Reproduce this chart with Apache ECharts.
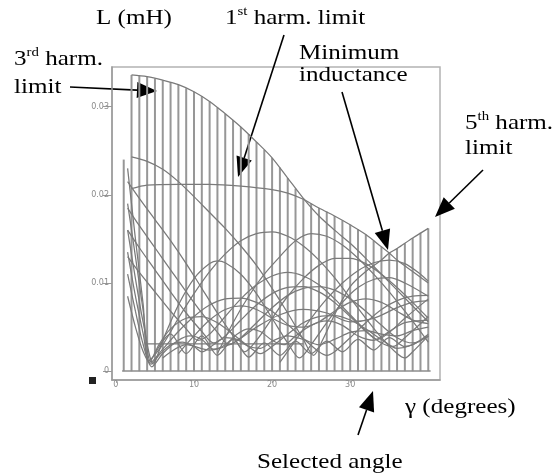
<!DOCTYPE html>
<html>
<head>
<meta charset="utf-8">
<script src="https://cdn.jsdelivr.net/npm/echarts@6/dist/echarts.min.js"></script>
<style>html,body{margin:0;padding:0;background:#fff}#c{width:552px;height:476px}</style>
</head>
<body>
<div id="c"></div>
<script>
// ---- tick labels ----
const xTicks = [0, 10, 20, 30];
const yTicks = [0, 0.01, 0.02, 0.03];

// ---- vertical hatch lines: angle (deg) and upper limit L (mH) ----
const hatchAngles = [1,2,3,4,5,6,7,8,9,10,11,12,13,14,15,16,17,18,19,20,21,22,23,24,25,26,27,28,29,30,31,32,33,34,35,36,37,38,39,40];
const hatchHeights = [0.0240,0.0336,0.0335,0.0334,0.0332,0.0330,0.0328,0.0325,0.0321,0.0317,0.0312,0.0306,0.0299,0.0292,0.0285,0.0277,0.0269,0.0260,0.0251,0.0242,0.0231,0.0219,0.0207,0.0196,0.0190,0.0185,0.0181,0.0176,0.0171,0.0166,0.0161,0.0155,0.0148,0.0141,0.0134,0.0139,0.0145,0.0151,0.0157,0.0162];

// ---- limit curves [angle, L] ----
const lim3 = [[2,0.0336],[4,0.0334],[6,0.0330],[8,0.0325],[10,0.0317],[12,0.0306],[14,0.0292],[16,0.0277],[18,0.0260],[20,0.0242],[22,0.0219],[24,0.0196],[26,0.0176],[28,0.0160],[30,0.0145],[32,0.0128],[34,0.0110],[36,0.0092],[38,0.0074],[40,0.0056]];
const lim1 = [[2,0.0207],[4,0.0211],[8,0.0212],[12,0.0212],[16,0.0210],[20,0.0206],[22,0.0202],[24,0.0195],[26,0.0185],[28,0.0176],[30,0.0166],[32,0.0155],[34,0.0141],[35,0.0134],[36,0.0126],[38,0.0113],[40,0.0100]];
const lim5 = [[2,0.0243],[4,0.0238],[6,0.0229],[8,0.0215],[10,0.0198],[12,0.0180],[14,0.0162],[16,0.0142],[18,0.0120],[20,0.0094],[22,0.0066],[24,0.0036],[25.3,0.0018],[26.5,0.0036],[28,0.0064],[30,0.0096],[32,0.0113],[34,0.0126],[35,0.0134],[36,0.0139],[38,0.0151],[40,0.0162]];
const humpA = [[13,0.0020],[15,0.0055],[17,0.0085],[19,0.0110],[21,0.0130],[23,0.0148],[25,0.0156],[27,0.0153],[29,0.0143],[31,0.0128],[33,0.0110],[35,0.0090],[37,0.0068],[39,0.0045],[40,0.0033]];
const humpB = [[21,0.0010],[23,0.0035],[25,0.0060],[27,0.0082],[29,0.0100],[31,0.0114],[33,0.0123],[35,0.0126],[37,0.0122],[39,0.0110],[40,0.0102]];
const fan1 = [[1.5,0.0230],[2.5,0.0150],[3.5,0.0075],[4.2,0.0012],[6,0.0030],[8,0.0060],[10,0.0088],[12,0.0113],[14,0.0133],[16,0.0148],[18,0.0156],[20,0.0158],[22,0.0153],[24,0.0142],[26,0.0126],[28,0.0106],[30,0.0083],[32,0.0060],[34,0.0038],[36,0.0020],[37,0.0015],[38,0.0022],[40,0.0040]];
const fan2 = [[1.5,0.0190],[2.5,0.0130],[3.5,0.0068],[4.5,0.0010],[6,0.0025],[8,0.0045],[10,0.0062],[12,0.0075],[14,0.0082],[16,0.0083],[18,0.0078],[20,0.0068],[22,0.0053],[24,0.0037],[26,0.0022],[27,0.0018],[28,0.0022],[30,0.0038],[32,0.0055],[34,0.0070],[36,0.0080],[38,0.0085],[40,0.0086]];
const fan3 = [[1.5,0.0160],[2.5,0.0105],[3.5,0.0055],[4.8,0.0008],[6,0.0035],[8,0.0075],[10,0.0105],[12,0.0122],[13,0.0125],[14,0.0123],[16,0.0110],[18,0.0088],[20,0.0060],[22,0.0032],[23.5,0.0015],[25,0.0030],[27,0.0055],[29,0.0078],[31,0.0095],[33,0.0104],[35,0.0106],[37,0.0100],[40,0.0085]];
const fan4 = [[1.5,0.0135],[2.5,0.0085],[3.5,0.0042],[4.3,0.0010],[5.5,0.0030],[7,0.0048],[9,0.0060],[11,0.0062],[13,0.0055],[15,0.0042],[17,0.0028],[18.5,0.0020],[20,0.0028],[22,0.0042],[24,0.0055],[26,0.0062],[28,0.0063],[30,0.0058],[32,0.0048],[34,0.0036],[36,0.0026],[38,0.0030],[40,0.0042]];
const fan5 = [[1.5,0.0110],[2.5,0.0068],[3.5,0.0030],[4.6,0.0005],[6,0.0020],[8,0.0035],[9.5,0.0040],[11,0.0036],[12.5,0.0025],[14,0.0030],[15.5,0.0042],[17,0.0048],[18.5,0.0045],[20,0.0035],[21.5,0.0030],[23,0.0040],[25,0.0052],[27,0.0057],[29,0.0052],[31,0.0040],[33,0.0035],[35,0.0045],[37,0.0055],[40,0.0058]];
const fan6 = [[1.5,0.0085],[2.5,0.0050],[3.5,0.0022],[4.5,0.0008],[5.5,0.0018],[7,0.0030],[8.5,0.0033],[10,0.0028],[11,0.0022],[12.5,0.0030],[14,0.0038],[15.5,0.0036],[17,0.0028],[18.5,0.0026],[20,0.0034],[22,0.0040],[24,0.0036],[26,0.0030],[28,0.0036],[30,0.0044],[32,0.0046],[34,0.0042],[36,0.0040],[38,0.0046],[40,0.0050]];
const slope1 = [[1.5,0.0215],[3,0.0196],[5,0.0172],[7,0.0148],[9,0.0122],[11,0.0094],[13,0.0066],[15,0.0040],[16.5,0.0022],[18,0.0035],[20,0.0060],[22,0.0085],[24,0.0105],[26,0.0120],[28,0.0128],[30,0.0128],[32,0.0122],[34,0.0110],[36,0.0095],[38,0.0078],[40,0.0060]];
const slope2 = [[1.5,0.0185],[3,0.0165],[5,0.0140],[7,0.0115],[9,0.0090],[11,0.0066],[13,0.0044],[14.5,0.0030],[16,0.0038],[18,0.0055],[20,0.0072],[22,0.0086],[24,0.0094],[26,0.0096],[28,0.0092],[30,0.0082],[32,0.0068],[34,0.0052],[36,0.0038],[38,0.0032],[40,0.0040]];
const slope3 = [[1.5,0.0160],[3,0.0140],[5,0.0115],[7,0.0090],[9,0.0066],[11,0.0045],[12.5,0.0032],[14,0.0040],[16,0.0058],[18,0.0075],[20,0.0088],[22,0.0095],[24,0.0096],[26,0.0090],[28,0.0078],[30,0.0062],[32,0.0045],[34,0.0032],[35.5,0.0028],[37,0.0038],[40,0.0062]];
const slope4 = [[1.5,0.0130],[3,0.0112],[5,0.0090],[7,0.0068],[9,0.0048],[10.5,0.0035],[12,0.0042],[14,0.0062],[16,0.0082],[18,0.0098],[20,0.0108],[22,0.0112],[24,0.0108],[26,0.0098],[28,0.0082],[30,0.0064],[32,0.0046],[33.5,0.0036],[35,0.0044],[37,0.0060],[40,0.0082]];
const wave1 = [[8,0.0020],[10,0.0040],[12,0.0058],[14,0.0070],[16,0.0074],[18,0.0070],[20,0.0060],[22,0.0052],[24,0.0050],[26,0.0056],[28,0.0068],[30,0.0078],[32,0.0082],[34,0.0078],[36,0.0068],[38,0.0058],[40,0.0054]];
const wave2 = [[6,0.0015],[9,0.0030],[12,0.0024],[15,0.0032],[18,0.0050],[21,0.0064],[24,0.0070],[27,0.0066],[30,0.0056],[33,0.0060],[36,0.0072],[38,0.0078],[40,0.0080]];
const scallop = [[5,0.0020],[7,0.0042],[9,0.0020],[11,0.0040],[13,0.0018],[15,0.0036],[17,0.0016],[19,0.0032],[21,0.0018],[23,0.0034],[25,0.0020],[27,0.0034],[29,0.0022],[31,0.0036],[33,0.0024],[35,0.0038],[37,0.0028],[40,0.0040]];
const flatLow = [[4,0.0031],[24,0.0031]];
const baseSpan = [[0.8,0],[40.3,0]];

const curves = [lim3, lim1, lim5, humpA, humpB, fan1, fan2, fan3, fan4, fan5, fan6, slope1, slope2, slope3, slope4, wave1, wave2, scallop, flatLow];

const chart = echarts.init(document.getElementById('c'), null, {renderer: 'canvas'});

const serif = '"Liberation Serif", "Times New Roman", serif';
function arrow(x0, y0, x1, y1) {
  const dx = x1 - x0, dy = y1 - y0, len = Math.hypot(dx, dy);
  const ux = dx / len, uy = dy / len, hl = 20, hw = 8;
  const bx = x1 - ux * hl, by = y1 - uy * hl;
  return [
    {type: 'line', shape: {x1: x0, y1: y0, x2: bx, y2: by}, style: {stroke: '#000', lineWidth: 1.6}},
    {type: 'polygon', shape: {points: [[x1, y1], [bx - uy * hw, by + ux * hw], [bx + uy * hw, by - ux * hw]]}, style: {fill: '#000'}}
  ];
}
const richSup = {
  n: {fontSize: 22, fontFamily: serif, color: '#000', verticalAlign: 'bottom', lineHeight: 24},
  s: {fontSize: 13, fontFamily: serif, color: '#000', verticalAlign: 'top', lineHeight: 24, padding: [0, 0, 10, 0]}
};
function label(x, y, text) {
  return {type: 'text', x: x, y: y, scaleX: 1.14, style: {text: text, rich: richSup, verticalAlign: 'top', align: 'left'}};
}

const series = [{
  type: 'bar',
  data: hatchAngles.map((g, i) => [g, hatchHeights[i]]),
  barWidth: 2,
  itemStyle: {color: '#979797'},
  silent: true,
  markLine: {
    silent: true, symbol: 'none',
    lineStyle: {color: '#8c8c8c', width: 1.5, type: 'solid'},
    label: {show: false},
    data: [[{coord: baseSpan[0]}, {coord: baseSpan[1]}]]
  }
}];
curves.forEach(c => series.push({
  type: 'line', data: c, showSymbol: false, smooth: 0.3,
  lineStyle: {color: '#7a7a7a', width: 1.25}, silent: true
}));

chart.setOption({
  animation: false,
  grid: {left: 112, right: 112, top: 67, bottom: 96, show: true, borderColor: '#b3b3b3', borderWidth: 1.5},
  xAxis: {
    type: 'value', min: -0.5, max: 41.5,
    axisLine: {show: true, onZero: false, lineStyle: {color: '#9a9a9a', width: 1.5}},
    axisTick: {show: true, customValues: xTicks, length: 3, inside: false, lineStyle: {color: '#aaa'}},
    axisLabel: {customValues: xTicks, fontSize: 8, color: '#8a8a8a', margin: 1, fontFamily: 'DejaVu Sans'},
    splitLine: {show: false}
  },
  yAxis: {
    type: 'value', min: -0.001, max: 0.0345,
    axisLine: {show: true, onZero: false, lineStyle: {color: '#9a9a9a', width: 1.5}},
    axisTick: {show: true, customValues: yTicks, length: 9, lineStyle: {color: '#999'}},
    axisLabel: {customValues: yTicks, fontSize: 8, color: '#8a8a8a', margin: 3, fontFamily: 'DejaVu Sans', formatter: v => String(Math.round(v * 100) / 100)},
    splitLine: {show: false}
  },
  series: series,
  graphic: [].concat(
    arrow(70, 87, 157, 91),
    arrow(284, 35, 238, 177),
    arrow(342, 92, 388, 250),
    arrow(483, 170, 435, 217),
    arrow(358, 435, 373, 391),
    [
      label(96, 5, '{n|L (mH)}'),
      label(225, 5, '{n|1}{s|st}{n| harm. limit}'),
      label(14, 46, '{n|3}{s|rd}{n| harm.}'),
      label(14, 74, '{n|limit}'),
      label(299, 40, '{n|Minimum}'),
      label(299, 62, '{n|inductance}'),
      label(465, 110, '{n|5}{s|th}{n| harm.}'),
      label(465, 135, '{n|limit}'),
      label(405, 394, '{n|γ (degrees)}'),
      label(257, 449, '{n|Selected angle}'),
      {type: 'rect', shape: {x: 89, y: 377, width: 7, height: 7}, style: {fill: '#222'}}
    ]
  )
});
</script>
</body>
</html>
